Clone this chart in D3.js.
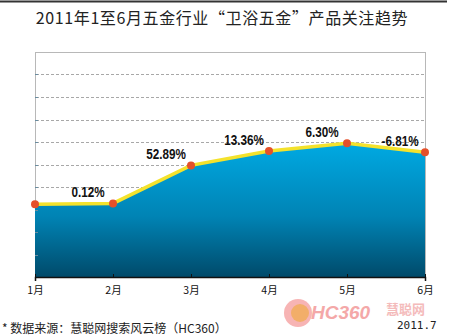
<!DOCTYPE html>
<html lang="zh">
<head>
    <meta charset="UTF-8">
    <title>2011年1至6月五金行业卫浴五金产品关注趋势</title>
    <script src="https://cdnjs.cloudflare.com/ajax/libs/d3/7.8.5/d3.min.js"></script>
    <style>
        body { margin: 0; background: #fff; }
        svg { display: block; }
        .title { font-family: "Noto Sans CJK SC", sans-serif; font-size: 16px; letter-spacing: 0.6px; fill: #222; text-anchor: middle; }
        .grid line { stroke: #a8a8a8; stroke-dasharray: 3 2; shape-rendering: crispEdges; }
        .x-axis text { font-family: "Noto Sans CJK SC", sans-serif; font-size: 10.5px; fill: #111; }
        .rate { font-family: "Liberation Sans", sans-serif; font-weight: bold; font-size: 15px; fill: #111; text-anchor: middle; }
        .note { font-family: "Noto Sans CJK SC", sans-serif; font-size: 12px; fill: #222; }
    </style>
</head>
<body>
<div id="wrapper"></div>
<script>
    // 数据
    const months = ['1月', '2月', '3月', '4月', '5月', '6月']
    const values = [32.3, 32.7, 49.6, 56.0, 59.4, 55.4]
    const rates = ['', '0.12%', '52.89%', '13.36%', '6.30%', '-6.81%']
    const yTicks = [10, 20, 30, 40, 50, 60, 70, 80, 90]

    const dimensions = {
        width: 450,
        height: 336,
        margin: { top: 52, right: 25, bottom: 59, left: 35 }
    }
    dimensions.boundedWidth = dimensions.width - dimensions.margin.left - dimensions.margin.right
    dimensions.boundedHeight = dimensions.height - dimensions.margin.top - dimensions.margin.bottom

    const svg = d3.select('#wrapper')
        .append('svg')
        .attr('width', dimensions.width)
        .attr('height', dimensions.height)

    // 顶部线
    svg.append('line')
        .attr('x1', 0).attr('x2', 447)
        .attr('y1', 1.5).attr('y2', 1.5)
        .attr('stroke', '#333').attr('stroke-width', 2)

    svg.append('text')
        .attr('class', 'title')
        .attr('x', 222)
        .attr('y', 24)
        .text('2011年1至6月五金行业“卫浴五金”产品关注趋势')

    const bounds = svg.append('g')
        .attr('transform', `translate(${dimensions.margin.left},${dimensions.margin.top})`)

    const xScale = d3.scalePoint()
        .domain(months)
        .range([0, dimensions.boundedWidth])

    const yScale = d3.scaleLinear()
        .domain([0, 100])
        .range([dimensions.boundedHeight, 0])

    // 渐变
    const grad = svg.append('defs').append('linearGradient')
        .attr('id', 'areaGrad')
        .attr('x1', 0).attr('y1', 0).attr('x2', 0).attr('y2', 1)
    grad.append('stop').attr('offset', '0%').attr('stop-color', '#00a9e2')
    grad.append('stop').attr('offset', '55%').attr('stop-color', '#0083b4')
    grad.append('stop').attr('offset', '100%').attr('stop-color', '#004a6a')

    // 边框
    bounds.append('rect')
        .attr('x', 0.5).attr('y', 0.5)
        .attr('width', dimensions.boundedWidth)
        .attr('height', dimensions.boundedHeight)
        .attr('fill', 'none')
        .attr('stroke', '#b8b8b8')

    // 网格线
    bounds.append('g')
        .attr('class', 'grid')
        .selectAll('line')
        .data(yTicks)
        .join('line')
        .attr('x1', 1)
        .attr('x2', dimensions.boundedWidth)
        .attr('y1', d => Math.round(yScale(d)) + 0.5)
        .attr('y2', d => Math.round(yScale(d)) + 0.5)

    const area = d3.area()
        .x(d => xScale(d.m))
        .y0(dimensions.boundedHeight)
        .y1(d => yScale(d.v))

    const line = d3.line()
        .x(d => xScale(d.m))
        .y(d => yScale(d.v))

    const points = months.map((m, i) => ({ m, v: values[i], r: rates[i] }))

    bounds.append('path')
        .datum(points)
        .attr('d', area)
        .attr('fill', 'url(#areaGrad)')

    // 左侧刻度（落在面积上）
    bounds.append('g')
        .selectAll('line')
        .data(yTicks)
        .join('line')
        .attr('x1', 0).attr('x2', 3)
        .attr('y1', d => Math.round(yScale(d)) + 0.5)
        .attr('y2', d => Math.round(yScale(d)) + 0.5)
        .attr('stroke', '#6a8ca0')

    bounds.append('path')
        .datum(points)
        .attr('d', line)
        .attr('fill', 'none')
        .attr('stroke', '#f4e22c')
        .attr('stroke-width', 3.5)

    bounds.selectAll('.dot')
        .data(points)
        .join('circle')
        .attr('class', 'dot')
        .attr('cx', d => xScale(d.m))
        .attr('cy', d => yScale(d.v))
        .attr('r', 4)
        .attr('fill', '#e5502a')

    // 增长率标签（窄体）
    bounds.selectAll('.rate')
        .data(points.filter(d => d.r))
        .join('text')
        .attr('class', 'rate')
        .attr('transform', d => `translate(${xScale(d.m) - 25},${yScale(d.v) - 6}) scale(0.78,1)`)
        .text(d => d.r)

    // X轴
    const xAxis = bounds.append('g')
        .attr('class', 'x-axis')
        .attr('transform', `translate(0,${dimensions.boundedHeight})`)
        .call(d3.axisBottom(xScale).tickSize(4).tickSizeInner(-3).tickPadding(10))
    xAxis.select('.domain').attr('stroke', '#111').attr('stroke-width', 1.5)
    xAxis.selectAll('.tick line').attr('stroke', '#111')

    // 水印
    const wm = svg.append('g').attr('opacity', 0.85)
    wm.append('circle').attr('cx', 298).attr('cy', 313).attr('r', 14).attr('fill', '#f6a8a8')
    wm.append('circle').attr('cx', 300).attr('cy', 313).attr('r', 9).attr('fill', '#f0a050')
    wm.append('text')
        .attr('x', 311).attr('y', 319)
        .attr('font-family', 'Liberation Sans, sans-serif')
        .attr('font-weight', 'bold').attr('font-style', 'italic')
        .attr('font-size', 19).attr('fill', '#f39a9a')
        .text('HC360')
    wm.append('text')
        .attr('x', 386).attr('y', 314)
        .attr('font-family', 'Noto Sans CJK SC, sans-serif')
        .attr('font-weight', 'bold')
        .attr('font-size', 13).attr('fill', '#f3b0b0')
        .text('慧聪网')

    svg.append('text')
        .attr('class', 'note')
        .attr('x', 2)
        .attr('y', 333)
        .text('* 数据来源：慧聪网搜索风云榜（HC360）')

    svg.append('text')
        .attr('x', 397)
        .attr('y', 329)
        .attr('font-family', 'DejaVu Sans Mono, monospace')
        .attr('font-size', 11)
        .attr('fill', '#222')
        .text('2011.7')
</script>
</body>
</html>
